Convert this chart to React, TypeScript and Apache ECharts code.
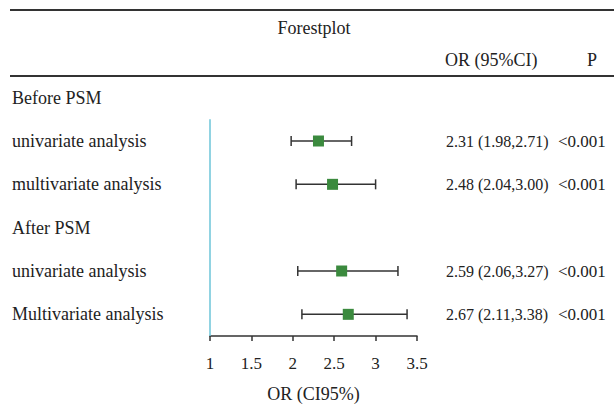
import React, { useEffect, useRef } from "react";
import * as echarts from "echarts";

const rowLabels = [
  "Before PSM",
  "univariate analysis",
  "multivariate analysis",
  "After PSM",
  "univariate analysis",
  "Multivariate analysis",
];
const orValues = [null, 2.31, 2.48, null, 2.59, 2.67];
const lowerValues = [null, 1.98, 2.04, null, 2.06, 2.11];
const upperValues = [null, 2.71, 3.0, null, 3.27, 3.38];
const orTexts = ["", "2.31 (1.98,2.71)", "2.48 (2.04,3.00)", "", "2.59 (2.06,3.27)", "2.67 (2.11,3.38)"];
const pTexts = ["", "<0.001", "<0.001", "", "<0.001", "<0.001"];
const xTicks = [1, 1.5, 2, 2.5, 3, 3.5];

const FONT = "'Liberation Serif', 'Times New Roman', serif";
const TXT = "#222";

export default function App() {
  const ref = useRef<HTMLDivElement>(null);
  useEffect(() => {
    if (!ref.current) return;
    const chart = echarts.init(ref.current, undefined, { renderer: "svg" });
    const data = rowLabels
      .map((_, i) => [i, orValues[i], lowerValues[i], upperValues[i]])
      .filter((d) => d[1] !== null);
    const textData = rowLabels.map((_, i) => [i]);
    chart.setOption({
      animation: false,
      textStyle: { fontFamily: FONT },
      grid: { left: 210, width: 207, top: 76, height: 265 },
      xAxis: {
        type: "value",
        min: xTicks[0],
        max: xTicks[xTicks.length - 1],
        interval: 0.5,
        splitLine: { show: false },
        axisLine: { show: true, lineStyle: { color: "#333", width: 1.5 } },
        axisTick: { show: true, length: 5, lineStyle: { color: "#333", width: 1.5 } },
        axisLabel: { fontFamily: FONT, fontSize: 17, color: TXT, margin: 19 },
        name: "OR (CI95%)",
        nameLocation: "middle",
        nameGap: 49,
        nameTextStyle: { fontFamily: FONT, fontSize: 18, color: TXT },
      },
      yAxis: {
        type: "category",
        data: rowLabels,
        inverse: true,
        axisLine: { show: false },
        axisTick: { show: false },
        splitLine: { show: false },
        axisLabel: {
          fontFamily: FONT,
          fontSize: 18,
          color: TXT,
          align: "left",
          margin: 198,
        },
      },
      graphic: [
        { type: "line", shape: { x1: 10, y1: 10, x2: 614, y2: 10 }, style: { stroke: "#333", lineWidth: 2 } },
        { type: "line", shape: { x1: 10, y1: 76, x2: 614, y2: 76 }, style: { stroke: "#333", lineWidth: 2 } },
        { type: "text", x: 314, y: 28, style: { text: "Forestplot", font: `18px ${FONT}`, fill: TXT, align: "center", verticalAlign: "middle" } },
        { type: "text", x: 445, y: 60, style: { text: "OR (95%CI)", font: `18px ${FONT}`, fill: TXT, align: "left", verticalAlign: "middle" } },
        { type: "text", x: 592, y: 60, style: { text: "P", font: `18px ${FONT}`, fill: TXT, align: "center", verticalAlign: "middle" } },
      ],
      series: [
        {
          type: "custom",
          data: [[0], [1]],
          renderItem: (params: any, api: any) => {
            if (params.dataIndex !== 0) return null;
            const top = api.coord([1, 0]);
            const bot = api.coord([1, 5]);
            const band = api.size([0, 1])[1];
            return {
              type: "line",
              shape: { x1: top[0], y1: top[1] + band / 2, x2: bot[0], y2: bot[1] + band / 2 },
              style: { stroke: "#6cc4d8", lineWidth: 1.5 },
            };
          },
          silent: true,
          z: 1,
        },
        {
          type: "custom",
          data,
          encode: { x: [1, 2, 3], y: 0 },
          renderItem: (params: any, api: any) => {
            const row = api.value(0);
            const c = api.coord([api.value(1), row]);
            const lo = api.coord([api.value(2), row]);
            const hi = api.coord([api.value(3), row]);
            const cap = 5;
            const sq = 11;
            const st = { stroke: "#333", lineWidth: 1.5 };
            return {
              type: "group",
              children: [
                { type: "line", shape: { x1: lo[0], y1: c[1], x2: hi[0], y2: c[1] }, style: st },
                { type: "line", shape: { x1: lo[0], y1: c[1] - cap, x2: lo[0], y2: c[1] + cap }, style: st },
                { type: "line", shape: { x1: hi[0], y1: c[1] - cap, x2: hi[0], y2: c[1] + cap }, style: st },
                { type: "rect", shape: { x: c[0] - sq / 2, y: c[1] - sq / 2, width: sq, height: sq }, style: { fill: "#3b8a3e" } },
              ],
            };
          },
          z: 3,
        },
        {
          type: "custom",
          data: textData,
          encode: { y: 0 },
          renderItem: (params: any, api: any) => {
            const row = api.value(0);
            const y = api.coord([1, row])[1];
            const i = params.dataIndex;
            return {
              type: "group",
              children: [
                { type: "text", x: 446, y, style: { text: orTexts[i], font: `16px ${FONT}`, fill: TXT, align: "left", verticalAlign: "middle" } },
                { type: "text", x: 558, y, style: { text: pTexts[i], font: `17px ${FONT}`, fill: TXT, align: "left", verticalAlign: "middle" } },
              ],
            };
          },
          z: 3,
        },
      ],
    });
    return () => chart.dispose();
  }, []);
  return <div ref={ref} style={{ width: 614, height: 408, position: "absolute", left: 0, top: 0 }} />;
}
